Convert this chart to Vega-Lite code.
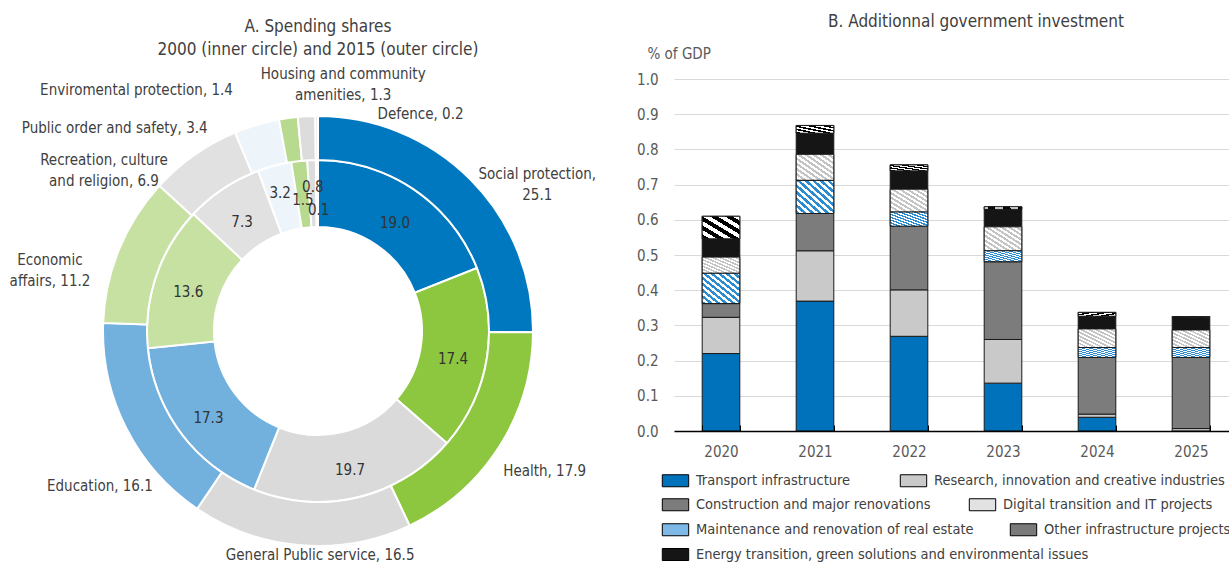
{
  "$schema": "https://vega.github.io/schema/vega-lite/v6.json",
  "background": "white",
  "padding": {"left": 0, "top": 13, "right": 0, "bottom": 0},
  "config": {
    "font": "DejaVu Sans Condensed, Roboto, sans-serif",
    "view": {"stroke": null},
    "title": {"font": "DejaVu Sans Condensed, Roboto, sans-serif", "fontWeight": "normal", "fontSize": 17, "color": "#404040"},
    "axis": {"labelFont": "DejaVu Sans Condensed, Roboto, sans-serif", "titleFont": "DejaVu Sans Condensed, Roboto, sans-serif", "labelFontSize": 15, "titleFontSize": 15, "labelColor": "#595959", "titleColor": "#595959", "titleFontWeight": "normal"},
    "legend": {"labelFont": "DejaVu Sans Condensed, Roboto, sans-serif", "labelFontSize": 14.5, "labelColor": "#404040"}
  },
  "bounds": "flush",
  "spacing": 38,
  "resolve": {"scale": {"color": "independent", "theta": "independent"}, "legend": {"color": "independent"}},
  "hconcat": [
    {
      "width": 636,
      "height": 504,
      "title": {"text": ["A. Spending shares", "2000 (inner circle) and 2015 (outer circle)"], "offset": 8, "lineHeight": 23},
      "data": {"values": [
        {"idx": 1, "cat": "Social protection", "v2000": 19.0, "v2015": 25.1, "label": "Social protection,|25.1"},
        {"idx": 2, "cat": "Health", "v2000": 17.4, "v2015": 17.9, "label": "Health, 17.9"},
        {"idx": 3, "cat": "General Public service", "v2000": 19.7, "v2015": 16.5, "label": "General Public service, 16.5"},
        {"idx": 4, "cat": "Education", "v2000": 17.3, "v2015": 16.1, "label": "Education, 16.1"},
        {"idx": 5, "cat": "Economic affairs", "v2000": 13.6, "v2015": 11.2, "label": "Economic|affairs, 11.2"},
        {"idx": 6, "cat": "Recreation, culture and religion", "v2000": 7.3, "v2015": 6.9, "label": "Recreation, culture|and religion, 6.9"},
        {"idx": 7, "cat": "Public order and safety", "v2000": 3.2, "v2015": 3.4, "label": "Public order and safety, 3.4"},
        {"idx": 8, "cat": "Enviromental protection", "v2000": 1.5, "v2015": 1.4, "label": "Enviromental protection, 1.4"},
        {"idx": 9, "cat": "Housing and community amenities", "v2000": 0.8, "v2015": 1.3, "label": "Housing and community|amenities, 1.3"},
        {"idx": 10, "cat": "Defence", "v2000": 0.1, "v2015": 0.2, "label": "Defence, 0.2"}
      ]},
      "layer": [
        {
          "mark": {"type": "arc", "radius": 171, "radius2": 104, "stroke": "white", "strokeWidth": 2},
          "encoding": {
            "theta": {"field": "v2000", "type": "quantitative", "stack": true, "scale": {"domain": [0, 100]}},
            "order": {"field": "idx", "type": "quantitative"},
            "color": {"field": "cat", "type": "nominal", "legend": null,
              "scale": {"domain": ["Social protection", "Health", "General Public service", "Education", "Economic affairs", "Recreation, culture and religion", "Public order and safety", "Enviromental protection", "Housing and community amenities", "Defence"],
                        "range": ["#0078BF", "#8DC63F", "#DADADA", "#72B0DE", "#C6E1A2", "#E1E1E1", "#EDF5FB", "#B7DA8E", "#DCDCDC", "#E4E4E4"]}}
          }
        },
        {
          "mark": {"type": "arc", "radius": 215, "radius2": 171, "stroke": "white", "strokeWidth": 2},
          "encoding": {
            "theta": {"field": "v2015", "type": "quantitative", "stack": true, "scale": {"domain": [0, 100]}},
            "order": {"field": "idx", "type": "quantitative"},
            "color": {"field": "cat", "type": "nominal", "legend": null}
          }
        },
        {
          "mark": {"type": "text", "radius": 137, "fontSize": 15, "color": "#333333", "baseline": "middle", "align": "center",
            "dx": {"expr": "[0,0,0,0,0,0,-3,0,0,2][datum.idx-1]"},
            "dy": {"expr": "[5,5,6,5,5,5,-6,5,-7,16][datum.idx-1]"}},
          "encoding": {
            "theta": {"field": "v2000", "type": "quantitative", "stack": true, "scale": {"domain": [0, 100]}},
            "order": {"field": "idx", "type": "quantitative"},
            "detail": {"field": "cat"},
            "text": {"field": "v2000", "type": "quantitative", "format": ".1f"}
          }
        },
        {
          "mark": {"type": "text", "radius": 240, "fontSize": 15, "color": "#404040", "baseline": "middle", "lineBreak": "|", "lineHeight": 21,
            "align": {"expr": "datum.idx == 2 || datum.idx == 10 ? 'left' : (datum.idx == 4 || datum.idx == 7 || datum.idx == 8 ? 'right' : 'center')"},
            "dx": {"expr": "[49,-17,21,49,-46,-76,-42,-52,38,61][datum.idx-1]"},
            "dy": {"expr": "[12,11,-15,47,20,25,27,-3,-17,23][datum.idx-1]"}},
          "encoding": {
            "theta": {"field": "v2015", "type": "quantitative", "stack": true, "scale": {"domain": [0, 100]}},
            "order": {"field": "idx", "type": "quantitative"},
            "detail": {"field": "cat"},
            "text": {"field": "label"}
          }
        }
      ]
    },
    {
      "width": 564,
      "height": 352,
      "title": {"text": "B. Additionnal government investment", "offset": 15, "dx": 20},
      "data": {"values": [
        {"year": "2020", "type": "Transport infrastructure", "value": 0.220},
        {"year": "2020", "type": "Research, innovation and creative industries", "value": 0.103},
        {"year": "2020", "type": "Construction and major renovations", "value": 0.039},
        {"year": "2020", "type": "Maintenance and renovation of real estate", "value": 0.086},
        {"year": "2020", "type": "Digital transition and IT projects", "value": 0.046},
        {"year": "2020", "type": "Energy transition, green solutions and environmental issues", "value": 0.052},
        {"year": "2020", "type": "Other infrastructure projects", "value": 0.064},
        {"year": "2021", "type": "Transport infrastructure", "value": 0.369},
        {"year": "2021", "type": "Research, innovation and creative industries", "value": 0.143},
        {"year": "2021", "type": "Construction and major renovations", "value": 0.106},
        {"year": "2021", "type": "Maintenance and renovation of real estate", "value": 0.094},
        {"year": "2021", "type": "Digital transition and IT projects", "value": 0.074},
        {"year": "2021", "type": "Energy transition, green solutions and environmental issues", "value": 0.060},
        {"year": "2021", "type": "Other infrastructure projects", "value": 0.022},
        {"year": "2022", "type": "Transport infrastructure", "value": 0.269},
        {"year": "2022", "type": "Research, innovation and creative industries", "value": 0.132},
        {"year": "2022", "type": "Construction and major renovations", "value": 0.181},
        {"year": "2022", "type": "Maintenance and renovation of real estate", "value": 0.040},
        {"year": "2022", "type": "Digital transition and IT projects", "value": 0.065},
        {"year": "2022", "type": "Energy transition, green solutions and environmental issues", "value": 0.052},
        {"year": "2022", "type": "Other infrastructure projects", "value": 0.017},
        {"year": "2023", "type": "Transport infrastructure", "value": 0.136},
        {"year": "2023", "type": "Research, innovation and creative industries", "value": 0.124},
        {"year": "2023", "type": "Construction and major renovations", "value": 0.221},
        {"year": "2023", "type": "Maintenance and renovation of real estate", "value": 0.031},
        {"year": "2023", "type": "Digital transition and IT projects", "value": 0.068},
        {"year": "2023", "type": "Energy transition, green solutions and environmental issues", "value": 0.050},
        {"year": "2023", "type": "Other infrastructure projects", "value": 0.007},
        {"year": "2024", "type": "Transport infrastructure", "value": 0.039},
        {"year": "2024", "type": "Research, innovation and creative industries", "value": 0.009},
        {"year": "2024", "type": "Construction and major renovations", "value": 0.161},
        {"year": "2024", "type": "Maintenance and renovation of real estate", "value": 0.028},
        {"year": "2024", "type": "Digital transition and IT projects", "value": 0.053},
        {"year": "2024", "type": "Energy transition, green solutions and environmental issues", "value": 0.036},
        {"year": "2024", "type": "Other infrastructure projects", "value": 0.011},
        {"year": "2025", "type": "Transport infrastructure", "value": 0.000},
        {"year": "2025", "type": "Research, innovation and creative industries", "value": 0.007},
        {"year": "2025", "type": "Construction and major renovations", "value": 0.202},
        {"year": "2025", "type": "Maintenance and renovation of real estate", "value": 0.028},
        {"year": "2025", "type": "Digital transition and IT projects", "value": 0.050},
        {"year": "2025", "type": "Energy transition, green solutions and environmental issues", "value": 0.036},
        {"year": "2025", "type": "Other infrastructure projects", "value": 0.002}
      ]},
      "transform": [
        {"calculate": "indexof(['Transport infrastructure','Research, innovation and creative industries','Construction and major renovations','Maintenance and renovation of real estate','Digital transition and IT projects','Energy transition, green solutions and environmental issues','Other infrastructure projects'], datum.type)", "as": "stackIdx"},
        {"stack": "value", "groupby": ["year"], "sort": [{"field": "stackIdx", "order": "ascending"}], "as": ["y0", "y1"]}
      ],
      "encoding": {
        "x": {"field": "year", "type": "ordinal",
          "scale": {"paddingInner": 0.6, "paddingOuter": 0.3},
          "axis": {"title": null, "labelAngle": 0, "tickBand": "extent", "ticks": true, "tickSize": -6, "tickColor": "#000000", "domainColor": "#000000", "domainWidth": 1.5, "labelPadding": 19, "zindex": 1}},
        "y": {"field": "y0", "type": "quantitative",
          "scale": {"domain": [0, 1]},
          "axis": {"values": [0, 0.1, 0.2, 0.3, 0.4, 0.5, 0.6, 0.7, 0.8, 0.9, 1.0], "format": ".1f", "title": "% of GDP",
            "titleAngle": 0, "titleAlign": "left", "titleBaseline": "middle", "titleX": -27, "titleY": -26,
            "domain": false, "ticks": false, "labelPadding": 16, "gridColor": "#D9D9D9", "gridWidth": 1}},
        "y2": {"field": "y1"}
      },
      "resolve": {"scale": {"color": "independent"}, "legend": {"color": "independent"}},
      "layer": [
        {
          "transform": [{"filter": {"field": "type", "oneOf": ["Transport infrastructure", "Research, innovation and creative industries"]}}],
          "mark": {"type": "bar", "stroke": "#1a1a1a", "strokeWidth": 1},
          "encoding": {
            "color": {"field": "type", "type": "nominal",
              "scale": {"domain": ["Transport infrastructure", "Research, innovation and creative industries"], "range": ["#0072BC", "#C9C9C9"]},
              "legend": {"title": null, "orient": "none", "direction": "horizontal", "legendX": -11, "legendY": 389, "columnPadding": 47, "padding": 0, "labelOffset": 8,
                "symbolType": "M-1.1,-0.5H1.1V0.5H-1.1Z", "symbolSize": 576, "symbolStrokeColor": "#000000", "symbolStrokeWidth": 1, "labelLimit": 500}}
          }
        },
        {
          "transform": [{"filter": {"field": "type", "oneOf": ["Construction and major renovations", "Digital transition and IT projects"]}}],
          "mark": {"type": "bar", "stroke": "#1a1a1a", "strokeWidth": 1},
          "encoding": {
            "color": {"field": "type", "type": "nominal",
              "scale": {"domain": ["Construction and major renovations", "Digital transition and IT projects"], "range": ["#7C7C7C", "#E2E2E2"]},
              "legend": {"title": null, "orient": "none", "direction": "horizontal", "legendX": -11, "legendY": 413, "columnPadding": 36, "padding": 0, "labelOffset": 8,
                "symbolType": "M-1.1,-0.5H1.1V0.5H-1.1Z", "symbolSize": 576, "symbolStrokeColor": "#000000", "symbolStrokeWidth": 1, "labelLimit": 500}}
          }
        },
        {
          "transform": [{"filter": {"field": "type", "oneOf": ["Maintenance and renovation of real estate", "Other infrastructure projects"]}}],
          "mark": {"type": "bar", "stroke": "#1a1a1a", "strokeWidth": 1},
          "encoding": {
            "color": {"field": "type", "type": "nominal",
              "scale": {"domain": ["Maintenance and renovation of real estate", "Other infrastructure projects"], "range": ["#7DB8E6", "#7A7A7A"]},
              "legend": {"title": null, "orient": "none", "direction": "horizontal", "legendX": -11, "legendY": 438, "columnPadding": 34, "padding": 0, "labelOffset": 8,
                "symbolType": "M-1.1,-0.5H1.1V0.5H-1.1Z", "symbolSize": 576, "symbolStrokeColor": "#000000", "symbolStrokeWidth": 1, "labelLimit": 500}}
          }
        },
        {
          "transform": [{"filter": {"field": "type", "oneOf": ["Energy transition, green solutions and environmental issues"]}}],
          "mark": {"type": "bar", "stroke": "#1a1a1a", "strokeWidth": 1},
          "encoding": {
            "color": {"field": "type", "type": "nominal",
              "scale": {"domain": ["Energy transition, green solutions and environmental issues"], "range": ["#151515"]},
              "legend": {"title": null, "orient": "none", "direction": "horizontal", "legendX": -11, "legendY": 463, "padding": 0, "labelOffset": 8,
                "symbolType": "M-1.1,-0.5H1.1V0.5H-1.1Z", "symbolSize": 576, "symbolStrokeColor": "#000000", "symbolStrokeWidth": 1, "labelLimit": 500}}
          }
        },
        {
          "transform": [{"filter": "datum.type === 'Digital transition and IT projects'"}],
          "mark": {"type": "bar", "stroke": "#1a1a1a", "strokeWidth": 1,
            "color": {"gradient": "linear", "x1": 0, "y1": 1, "x2": 1, "y2": 0, "stops": [
                {"offset": 0, "color": "#C4C4C4"}, {"offset": 0.05, "color": "#C4C4C4"}, {"offset": 0.05, "color": "#FFFFFF"}, {"offset": 0.1, "color": "#FFFFFF"},
                {"offset": 0.1, "color": "#C4C4C4"}, {"offset": 0.15, "color": "#C4C4C4"}, {"offset": 0.15, "color": "#FFFFFF"}, {"offset": 0.2, "color": "#FFFFFF"},
                {"offset": 0.2, "color": "#C4C4C4"}, {"offset": 0.25, "color": "#C4C4C4"}, {"offset": 0.25, "color": "#FFFFFF"}, {"offset": 0.3, "color": "#FFFFFF"},
                {"offset": 0.3, "color": "#C4C4C4"}, {"offset": 0.35, "color": "#C4C4C4"}, {"offset": 0.35, "color": "#FFFFFF"}, {"offset": 0.4, "color": "#FFFFFF"},
                {"offset": 0.4, "color": "#C4C4C4"}, {"offset": 0.45, "color": "#C4C4C4"}, {"offset": 0.45, "color": "#FFFFFF"}, {"offset": 0.5, "color": "#FFFFFF"},
                {"offset": 0.5, "color": "#C4C4C4"}, {"offset": 0.55, "color": "#C4C4C4"}, {"offset": 0.55, "color": "#FFFFFF"}, {"offset": 0.6, "color": "#FFFFFF"},
                {"offset": 0.6, "color": "#C4C4C4"}, {"offset": 0.65, "color": "#C4C4C4"}, {"offset": 0.65, "color": "#FFFFFF"}, {"offset": 0.7, "color": "#FFFFFF"},
                {"offset": 0.7, "color": "#C4C4C4"}, {"offset": 0.75, "color": "#C4C4C4"}, {"offset": 0.75, "color": "#FFFFFF"}, {"offset": 0.8, "color": "#FFFFFF"},
                {"offset": 0.8, "color": "#C4C4C4"}, {"offset": 0.85, "color": "#C4C4C4"}, {"offset": 0.85, "color": "#FFFFFF"}, {"offset": 0.9, "color": "#FFFFFF"},
                {"offset": 0.9, "color": "#C4C4C4"}, {"offset": 0.95, "color": "#C4C4C4"}, {"offset": 0.95, "color": "#FFFFFF"}, {"offset": 1, "color": "#FFFFFF"}
              ]}}
        },
        {
          "transform": [{"filter": "datum.type === 'Maintenance and renovation of real estate'"}],
          "mark": {"type": "bar", "stroke": "#1a1a1a", "strokeWidth": 1,
            "color": {"gradient": "linear", "x1": 0, "y1": 1, "x2": 1, "y2": 0, "stops": [
                {"offset": 0, "color": "#2B8CD2"}, {"offset": 0.05, "color": "#2B8CD2"}, {"offset": 0.05, "color": "#FFFFFF"}, {"offset": 0.1, "color": "#FFFFFF"},
                {"offset": 0.1, "color": "#2B8CD2"}, {"offset": 0.15, "color": "#2B8CD2"}, {"offset": 0.15, "color": "#FFFFFF"}, {"offset": 0.2, "color": "#FFFFFF"},
                {"offset": 0.2, "color": "#2B8CD2"}, {"offset": 0.25, "color": "#2B8CD2"}, {"offset": 0.25, "color": "#FFFFFF"}, {"offset": 0.3, "color": "#FFFFFF"},
                {"offset": 0.3, "color": "#2B8CD2"}, {"offset": 0.35, "color": "#2B8CD2"}, {"offset": 0.35, "color": "#FFFFFF"}, {"offset": 0.4, "color": "#FFFFFF"},
                {"offset": 0.4, "color": "#2B8CD2"}, {"offset": 0.45, "color": "#2B8CD2"}, {"offset": 0.45, "color": "#FFFFFF"}, {"offset": 0.5, "color": "#FFFFFF"},
                {"offset": 0.5, "color": "#2B8CD2"}, {"offset": 0.55, "color": "#2B8CD2"}, {"offset": 0.55, "color": "#FFFFFF"}, {"offset": 0.6, "color": "#FFFFFF"},
                {"offset": 0.6, "color": "#2B8CD2"}, {"offset": 0.65, "color": "#2B8CD2"}, {"offset": 0.65, "color": "#FFFFFF"}, {"offset": 0.7, "color": "#FFFFFF"},
                {"offset": 0.7, "color": "#2B8CD2"}, {"offset": 0.75, "color": "#2B8CD2"}, {"offset": 0.75, "color": "#FFFFFF"}, {"offset": 0.8, "color": "#FFFFFF"},
                {"offset": 0.8, "color": "#2B8CD2"}, {"offset": 0.85, "color": "#2B8CD2"}, {"offset": 0.85, "color": "#FFFFFF"}, {"offset": 0.9, "color": "#FFFFFF"},
                {"offset": 0.9, "color": "#2B8CD2"}, {"offset": 0.95, "color": "#2B8CD2"}, {"offset": 0.95, "color": "#FFFFFF"}, {"offset": 1, "color": "#FFFFFF"}
              ]}}
        },
        {
          "transform": [{"filter": "datum.type === 'Other infrastructure projects'"}],
          "mark": {"type": "bar", "stroke": "#1a1a1a", "strokeWidth": 1,
            "color": {"gradient": "linear", "x1": 0, "y1": 1, "x2": 1, "y2": 0, "stops": [
                {"offset": 0, "color": "#000000"}, {"offset": 0.1, "color": "#000000"}, {"offset": 0.1, "color": "#FFFFFF"}, {"offset": 0.2, "color": "#FFFFFF"},
                {"offset": 0.2, "color": "#000000"}, {"offset": 0.3, "color": "#000000"}, {"offset": 0.3, "color": "#FFFFFF"}, {"offset": 0.4, "color": "#FFFFFF"},
                {"offset": 0.4, "color": "#000000"}, {"offset": 0.5, "color": "#000000"}, {"offset": 0.5, "color": "#FFFFFF"}, {"offset": 0.6, "color": "#FFFFFF"},
                {"offset": 0.6, "color": "#000000"}, {"offset": 0.7, "color": "#000000"}, {"offset": 0.7, "color": "#FFFFFF"}, {"offset": 0.8, "color": "#FFFFFF"},
                {"offset": 0.8, "color": "#000000"}, {"offset": 0.9, "color": "#000000"}, {"offset": 0.9, "color": "#FFFFFF"}, {"offset": 1, "color": "#FFFFFF"}
              ]}}
        }
      ]
    }
  ]
}
